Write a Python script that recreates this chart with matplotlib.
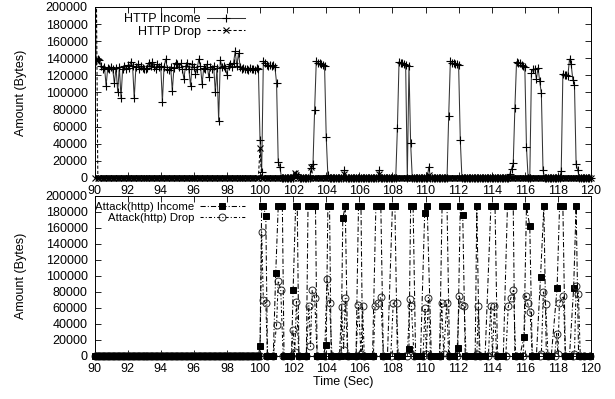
import numpy as np
import matplotlib.pyplot as plt

plt.rcParams['font.family'] = ['Liberation Sans', 'DejaVu Sans']
plt.rcParams['font.size'] = 9

# ---- top panel: HTTP traffic, one sample every 0.1 s, values in kB ----
t_top = np.round(np.arange(900, 1201) / 10, 1)

http_income = [
    250, 137, 139, 138, 131, 128, 130, 108, 129, 128,   # 90
    130, 127, 111, 129, 101, 130, 94, 128, 131, 127,    # 91
    132, 129, 136, 131, 93, 130, 133, 128, 131, 129,    # 92
    128, 127, 129, 135, 131, 136, 130, 128, 133, 130,   # 93
    131, 89, 130, 139, 128, 126, 130, 102, 129, 135,    # 94
    133, 130, 134, 128, 116, 131, 135, 127, 108, 133,   # 95
    130, 122, 128, 139, 131, 110, 129, 128, 133, 118,   # 96
    130, 128, 131, 100, 129, 67, 138, 130, 131, 129,    # 97
    121, 131, 133, 130, 135, 148, 131, 146, 130, 128,   # 98
    129, 127, 128, 126, 129, 127, 128, 126, 129, 128,   # 99
    45, 7, 137, 134, 132, 131, 132, 131, 132, 130,      # 100
    111, 19, 13, 0, 0, 0, 0, 0, 0, 0,                   # 101
    0, 3, 5, 2, 0, 0, 0, 0, 0, 0,                       # 102
    0, 12, 16, 80, 137, 135, 134, 133, 132, 131,        # 103
    48, 3, 0, 0, 0, 0, 0, 0, 0, 0,                      # 104
    0, 9, 0, 0, 0, 0, 0, 0, 0, 0,                       # 105
    0, 0, 0, 0, 0, 0, 0, 0, 0, 0,                       # 106
    0, 0, 9, 0, 0, 0, 0, 0, 0, 0,                       # 107
    0, 0, 0, 58, 136, 135, 134, 133, 132, 0,            # 108
    131, 41, 0, 0, 0, 0, 0, 0, 0, 0,                    # 109
    0, 0, 13, 0, 0, 0, 0, 0, 0, 0,                      # 110
    0, 0, 0, 0, 72, 137, 135, 134, 133, 133,            # 111
    132, 45, 0, 0, 0, 0, 0, 0, 0, 0,                    # 112
    0, 0, 0, 0, 0, 0, 0, 0, 0, 0,                       # 113
    0, 0, 0, 0, 0, 0, 0, 0, 0, 0,                       # 114
    0, 5, 11, 17, 82, 136, 135, 134, 132, 131,          # 115
    130, 36, 0, 0, 123, 127, 127, 116, 129, 113,        # 116
    99, 9, 0, 0, 0, 0, 0, 0, 0, 0,                      # 117
    0, 0, 8, 122, 121, 121, 119, 139, 133, 115,         # 118
    109, 16, 9, 0, 0, 0, 0, 0, 0, 0,                    # 119
    0,                                                  # 120
]

http_drop = [
    0, 250, 0, 0, 0, 0, 0, 0, 0, 0,     # 90
    0, 0, 0, 0, 0, 0, 0, 0, 0, 0,       # 91
    0, 0, 0, 0, 0, 0, 0, 0, 0, 0,       # 92
    0, 0, 0, 0, 0, 0, 0, 0, 0, 0,       # 93
    0, 0, 0, 0, 0, 0, 0, 0, 0, 0,       # 94
    0, 0, 0, 0, 0, 0, 0, 0, 0, 0,       # 95
    0, 0, 0, 0, 0, 0, 0, 0, 0, 0,       # 96
    0, 0, 0, 0, 0, 0, 0, 0, 0, 0,       # 97
    0, 0, 0, 0, 0, 0, 0, 0, 0, 0,       # 98
    0, 0, 0, 0, 0, 0, 0, 0, 0, 0,       # 99
    35, 0, 0, 0, 0, 0, 0, 0, 0, 0,      # 100
    0, 0, 0, 0, 0, 0, 0, 0, 0, 0,       # 101
    0, 6, 3, 0, 0, 0, 0, 0, 0, 0,       # 102
    0, 13, 0, 0, 0, 0, 0, 0, 0, 0,      # 103
    0, 0, 0, 0, 0, 0, 0, 0, 0, 0,       # 104
    0, 5, 0, 0, 0, 0, 0, 0, 0, 0,       # 105
    0, 0, 0, 0, 0, 0, 0, 0, 0, 0,       # 106
    0, 0, 5, 0, 0, 0, 0, 0, 0, 0,       # 107
    0, 0, 0, 0, 0, 0, 0, 0, 0, 0,       # 108
    0, 0, 0, 0, 0, 0, 0, 0, 0, 0,       # 109
    0, 0, 4, 0, 0, 0, 0, 0, 0, 0,       # 110
    0, 0, 0, 0, 0, 0, 0, 0, 0, 0,       # 111
    0, 0, 0, 0, 0, 0, 0, 0, 0, 0,       # 112
    0, 0, 0, 0, 0, 0, 0, 0, 0, 0,       # 113
    0, 0, 0, 0, 0, 0, 0, 0, 0, 0,       # 114
    0, 0, 0, 0, 0, 0, 0, 0, 0, 0,       # 115
    0, 0, 0, 0, 0, 0, 0, 0, 0, 0,       # 116
    0, 0, 0, 0, 0, 0, 0, 0, 0, 0,       # 117
    0, 0, 0, 0, 0, 0, 0, 0, 0, 0,       # 118
    0, 0, 0, 0, 0, 0, 0, 0, 0, 0,       # 119
    0,                                  # 120
]

# ---- bottom panel: attack traffic (kB) ----
# before 100 s nothing arrives, samples every 0.1 s
idle_t = np.round(np.arange(900, 1000) / 10, 1)

attack_in_t = [100.0, 100.1, 100.2, 100.35, 100.45, 100.6, 100.8,
               100.95, 101.1, 101.35, 101.45, 101.7, 101.9,
               102.0, 102.15, 102.25, 102.35, 102.6, 102.8,
               102.9, 103.05, 103.2, 103.35, 103.45, 103.6, 103.8,
               104.0, 104.1, 104.2, 104.3, 104.6, 104.9,
               105.0, 105.15, 105.3, 105.6, 105.8,
               105.95, 106.1, 106.2, 106.5, 106.8,
               107.0, 107.15, 107.3, 107.45, 107.7,
               108.0, 108.15, 108.3, 108.6,
               109.0, 109.1, 109.25, 109.4, 109.7,
               109.95, 110.1, 110.35, 110.6, 110.85,
               111.0, 111.15, 111.3, 111.45, 111.7,
               111.95, 112.1, 112.25, 112.4, 112.7, 113.0,
               113.1, 113.25, 113.6,
               113.95, 114.2, 114.35, 114.7,
               114.95, 115.1, 115.3, 115.4, 115.7,
               115.95, 116.1, 116.3, 116.45, 116.7,
               116.95, 117.15, 117.3, 117.6,
               117.95, 118.1, 118.3, 118.45, 118.7,
               118.95, 119.1, 119.25, 119.5, 119.7, 119.95]
attack_in_v = [12, 187, 187, 175, 0, 0, 0,
               104, 187, 187, 0, 0, 0,
               83, 187, 187, 0, 0, 0,
               187, 187, 187, 187, 0, 0, 0,
               14, 187, 187, 0, 0, 0,
               172, 187, 0, 0, 0,
               187, 187, 0, 0, 0,
               187, 187, 187, 0, 0,
               187, 187, 0, 0,
               9, 187, 187, 0, 0,
               179, 187, 0, 0, 0,
               187, 187, 187, 0, 0,
               10, 187, 176, 0, 0, 0,
               187, 0, 0,
               187, 187, 0, 0,
               187, 187, 187, 0, 0,
               24, 187, 162, 0, 0,
               99, 187, 0, 0,
               85, 187, 187, 0, 0,
               85, 187, 0, 0, 0, 0]

attack_drop_t = [100.0, 100.1, 100.2, 100.35, 100.45, 100.8,
                 101.0, 101.1, 101.25, 101.4, 101.9,
                 102.0, 102.1, 102.2, 102.35, 102.8,
                 102.95, 103.05, 103.15, 103.3, 103.45, 103.9,
                 104.05, 104.2, 104.35, 104.8,
                 104.93, 105.05, 105.15, 105.3, 105.8,
                 105.95, 106.1, 106.2, 106.3, 106.85,
                 106.95, 107.15, 107.3, 107.45, 107.9,
                 108.05, 108.25, 108.35, 108.9,
                 109.05, 109.15, 109.3, 109.85,
                 109.97, 110.05, 110.17, 110.3, 110.85,
                 110.98, 111.1, 111.28, 111.4, 111.9,
                 112.04, 112.18, 112.34, 112.45, 113.0,
                 113.1, 113.19, 113.3, 113.8,
                 113.94, 114.05, 114.16, 114.3, 114.85,
                 115.0, 115.15, 115.31, 115.45, 115.9,
                 116.07, 116.17, 116.32, 116.45, 116.9,
                 117.0, 117.12, 117.26, 117.4, 117.8,
                 117.93, 118.0, 118.09, 118.33, 118.45, 118.9,
                 119.0, 119.1, 119.24, 119.35, 119.6, 119.95]
attack_drop_v = [0, 155, 70, 66, 0, 0,
                 39, 94, 83, 0, 0,
                 32, 5, 68, 0, 0,
                 63, 12, 82, 73, 0, 0,
                 96, 66, 0, 0,
                 61, 8, 72, 0, 0,
                 64, 2, 62, 0, 0,
                 62, 66, 74, 0, 0,
                 66, 66, 0, 0,
                 71, 62, 0, 0,
                 60, 3, 73, 0, 0,
                 66, 2, 66, 0, 0,
                 75, 64, 62, 0, 0,
                 2, 62, 0, 0,
                 62, 1, 62, 0, 0,
                 62, 72, 82, 0, 0,
                 75, 66, 55, 0, 0,
                 3, 80, 65, 0, 0,
                 28, 2, 66, 75, 0, 0,
                 3, 87, 78, 0, 0, 0]

KB = 1000
in_t = np.concatenate([idle_t, attack_in_t])
in_v = np.concatenate([np.zeros(len(idle_t)), attack_in_v]) * KB
dr_t = np.concatenate([idle_t, attack_drop_t])
dr_v = np.concatenate([np.zeros(len(idle_t)), attack_drop_v]) * KB

fig = plt.figure(figsize=(6.15, 3.99), dpi=100)
ax1 = fig.add_axes([0.1537, 0.5539, 0.8073, 0.4286])
ax2 = fig.add_axes([0.1537, 0.1078, 0.8073, 0.4010])

series = [
    (ax1, t_top, np.array(http_income) * KB, 'HTTP Income', 3,
     dict(color='0.2', ls='-', marker='+', ms=6, mew=0.8, mec='black', mfc='black')),
    (ax1, t_top, np.array(http_drop) * KB, 'HTTP Drop', 3,
     dict(color='black', ls=(0, (3, 2)), marker='x', ms=4.5, mew=0.8, mec='black', mfc='black')),
    (ax2, in_t, in_v, 'Attack(http) Income', 4,
     dict(color='black', ls=(0, (5, 2, 1, 2)), marker='s', ms=5, mew=0.7, mfc='black', mec='black')),
    (ax2, dr_t, dr_v, 'Attack(http) Drop', 3,
     dict(color='black', ls=(0, (3, 2, 1, 2)), marker='o', ms=5, mew=0.7, mfc='none', mec='0.15')),
]

for ax, t, v, name, zz, kw in series:
    ax.plot(t, v, lw=0.75, label=name, **kw)
    # gnuplot draws the points on the zero line in full, straddling the axis
    zero = v == 0
    ax.plot(t[zero], v[zero], ls='none', clip_on=False, zorder=zz, marker=kw['marker'],
            ms=kw['ms'], mew=kw['mew'], mec=kw['mec'], mfc=kw['mfc'])

for ax in (ax1, ax2):
    ax.set_xlim(90, 120)
    ax.set_ylim(0, 200000)
    ax.set_xticks(np.arange(90, 121, 2))
    ax.set_yticks(np.arange(0, 200001, 20000))
    ax.tick_params(direction='in', top=True, right=True, length=4, width=0.6)
    ax.tick_params(axis='x', pad=5)
    ax.tick_params(axis='y', pad=5)
    for s in ax.spines.values():
        s.set_linewidth(0.7)
    ax.set_ylabel('Amount (Bytes)')
    ax.yaxis.set_label_coords(-0.137, 0.5)

ax2.set_xlabel('Time (Sec)')
ax2.xaxis.set_label_coords(0.5, -0.125)

ax1.legend(loc='upper right', bbox_to_anchor=(0.315, 1.0), frameon=False,
           markerfirst=False, numpoints=1, handlelength=3, labelspacing=0.05,
           borderaxespad=0.1, handletextpad=0.5, fontsize=9)
ax2.legend(loc='upper right', bbox_to_anchor=(0.315, 1.0), frameon=False,
           markerfirst=False, numpoints=1, handlelength=4, labelspacing=0.15,
           borderaxespad=0.1, handletextpad=0.5, fontsize=8.2)

fig.savefig('out.png', dpi=100)
